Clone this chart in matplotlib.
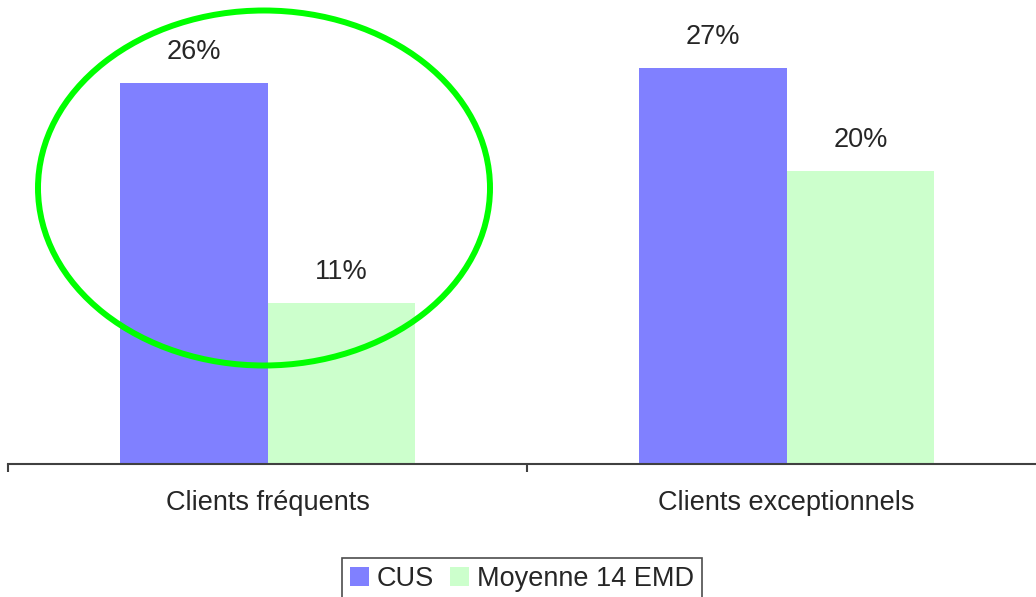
import matplotlib
matplotlib.use("Agg")
import matplotlib.pyplot as plt
from matplotlib.patches import Ellipse
import numpy as np

plt.rcParams['font.family'] = ['Liberation Sans', 'DejaVu Sans']

categories = ['Clients fréquents', 'Clients exceptionnels']
cus = [26, 27]
moyenne = [11, 20]
series_names = ['CUS', 'Moyenne 14 EMD']
colors = ['#8080FF', '#CCFFCC']
txt = '#262626'

W, H = 1036, 597
fig = plt.figure(figsize=(W / 100, H / 100), dpi=100)
ax = fig.add_axes([8 / W, (H - 464) / H, 1038 / W, 464 / H])

x = np.arange(len(categories))
bw = 0.285
b1 = ax.bar(x - bw / 2, cus, bw, color=colors[0], label=series_names[0])
b2 = ax.bar(x + bw / 2, moyenne, bw, color=colors[1], label=series_names[1])

for bars, vals in [(b1, cus), (b2, moyenne)]:
    for r, v in zip(bars, vals):
        ax.annotate('%d%%' % v, (r.get_x() + r.get_width() / 2, r.get_height()),
                    xytext=(0, 13), textcoords='offset points',
                    ha='center', va='bottom', fontsize=19.5, color=txt)

ax.set_xlim(-0.5, 1.5)
ax.set_ylim(0, 31.67)
for s in ['top', 'right', 'left']:
    ax.spines[s].set_visible(False)
ax.spines['bottom'].set_color('#404040')
ax.spines['bottom'].set_linewidth(1.5)
ax.set_yticks([])
ax.set_xticks([-0.5, 0.5, 1.5])
ax.set_xticklabels([])
ax.tick_params(axis='x', which='major', length=6, width=1.5, color='#404040')
ax.set_xticks(x, minor=True)
ax.set_xticklabels(categories, minor=True, fontsize=19.5, color=txt)
ax.tick_params(axis='x', which='minor', length=0, pad=19)

# green highlight ellipse
ell = Ellipse((264 / W, 1 - 188 / H), 452 / W, 355 / H, transform=fig.transFigure,
              fill=False, edgecolor='#00FF00', linewidth=4.3, zorder=10)
fig.patches.append(ell)

leg = fig.legend(loc='upper center', bbox_to_anchor=(522 / W, 1 - 558 / H),
                 ncol=2, frameon=True, fancybox=False, fontsize=19.5,
                 handlelength=0.7, handleheight=0.7, handletextpad=0.3,
                 columnspacing=0.6, borderpad=0.3, borderaxespad=0)
leg.get_frame().set_edgecolor('#202020')
leg.get_frame().set_linewidth(1.2)
for t in leg.get_texts():
    t.set_color(txt)

fig.savefig('out.png', dpi=100)
